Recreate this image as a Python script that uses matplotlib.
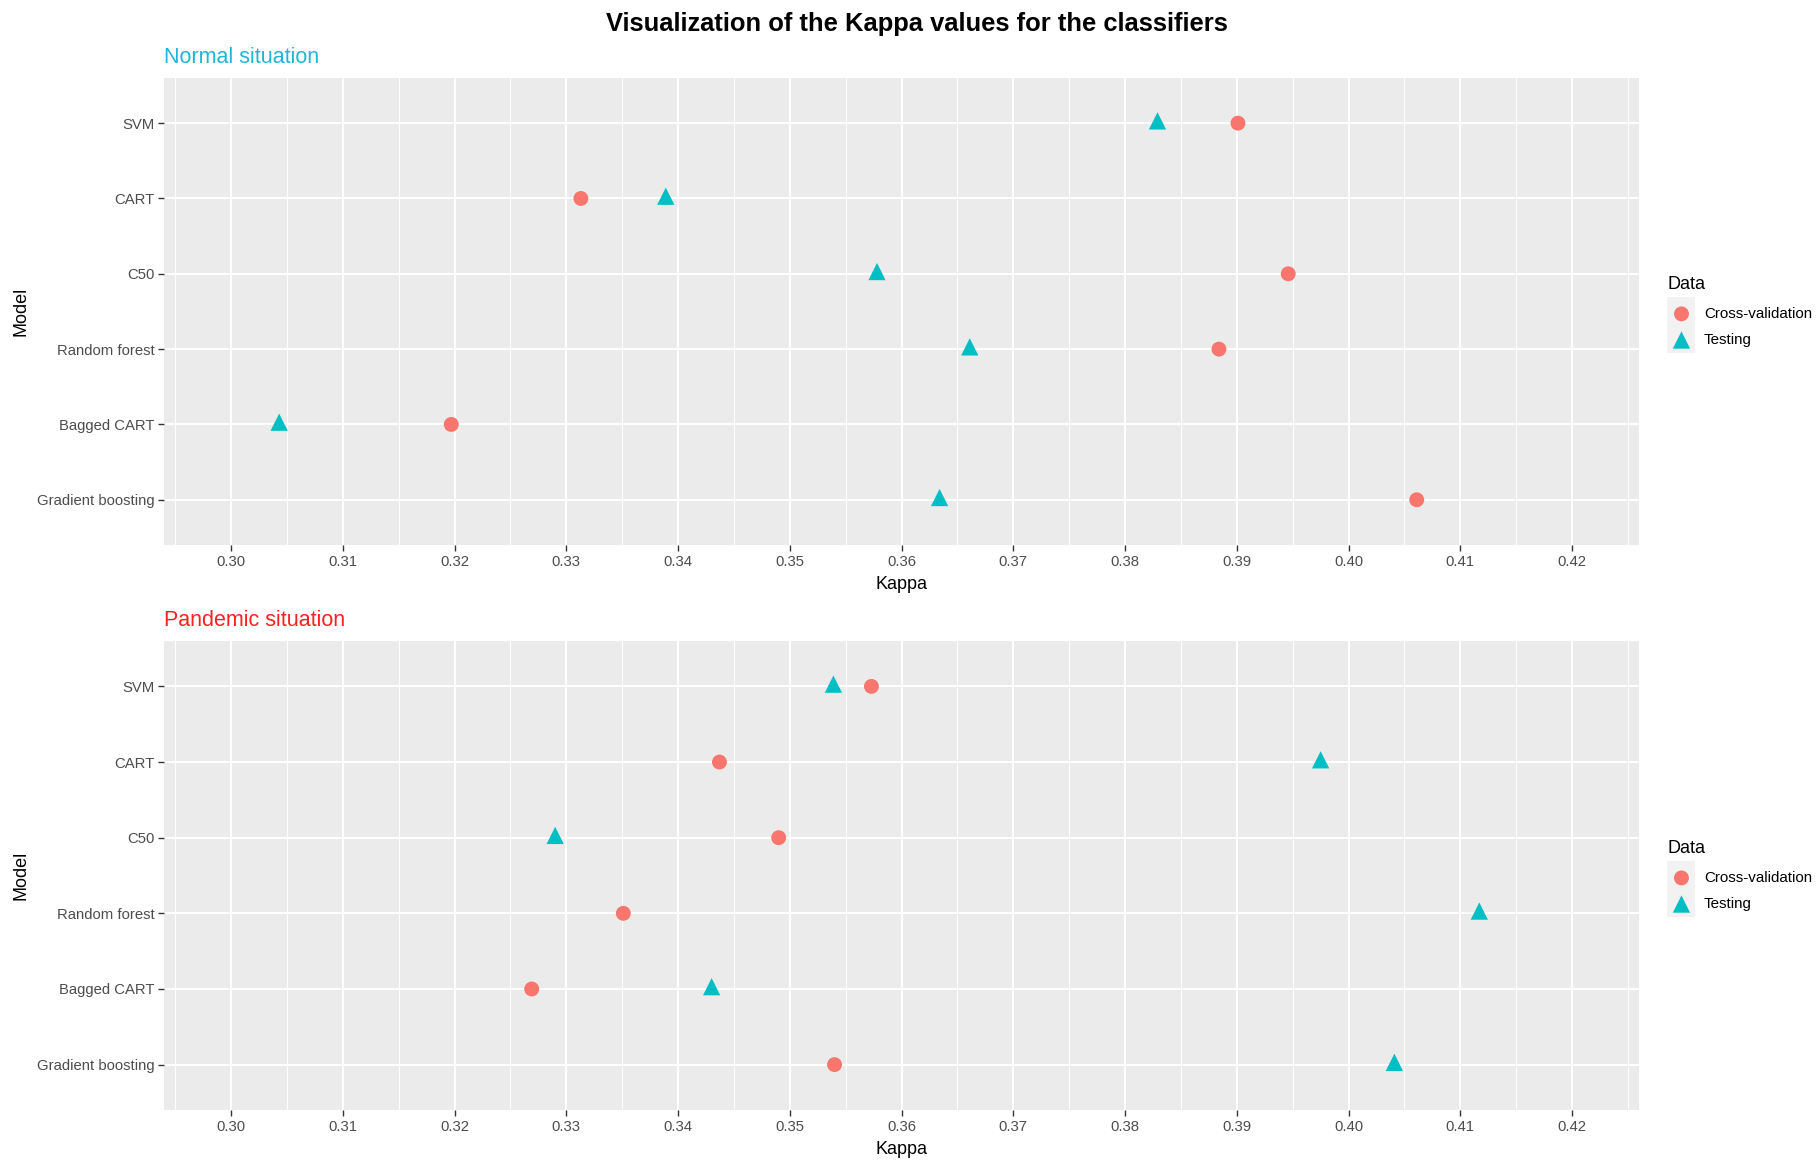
import matplotlib
matplotlib.use("Agg")
import matplotlib.pyplot as plt
from matplotlib.patches import Rectangle
import numpy as np

plt.rcParams['font.family'] = ['Liberation Sans', 'DejaVu Sans']

models = ["Gradient boosting", "Bagged CART", "Random forest", "C50", "CART", "SVM"]

# Kappa per model (same order as models)
normal_cv = [0.4061, 0.3197, 0.3884, 0.3946, 0.3313, 0.3901]
normal_test = [0.3634, 0.3043, 0.3661, 0.3578, 0.3389, 0.3829]
pandemic_cv = [0.3540, 0.3269, 0.3351, 0.3490, 0.3437, 0.3573]
pandemic_test = [0.4041, 0.3430, 0.4117, 0.3290, 0.3975, 0.3539]

xticks = [0.30, 0.31, 0.32, 0.33, 0.34, 0.35, 0.36, 0.37, 0.38, 0.39, 0.40, 0.41, 0.42]

CV_COL = "#F8766D"
TEST_COL = "#00BFC4"
PANEL_BG = "#EBEBEB"

fig = plt.figure(figsize=(18.19, 11.6), dpi=100)


def draw_panel(ax, cv, test, subtitle, sub_color):
    ypos = np.arange(len(models))
    ax.set_facecolor(PANEL_BG)
    for s in ax.spines.values():
        s.set_visible(False)
    ax.set_xlim(0.294, 0.426)
    ax.set_ylim(-0.6, len(models) - 0.4)
    ax.set_xticks(xticks)
    ax.set_xticklabels(["%.2f" % t for t in xticks])
    ax.set_xticks(np.arange(0.295, 0.4251, 0.01), minor=True)
    ax.set_yticks(ypos)
    ax.set_yticklabels(models)
    ax.grid(True, which='major', color='white', linewidth=1.4)
    ax.grid(True, which='minor', axis='x', color='white', linewidth=0.7)
    ax.set_axisbelow(True)
    ax.tick_params(which='major', length=4, width=1, color='#333333',
                   labelsize=10.7, labelcolor='#4D4D4D', pad=3)
    ax.tick_params(which='minor', length=0)
    ax.scatter(cv, ypos, marker='o', s=115, color=CV_COL, edgecolors='none',
               label="Cross-validation", zorder=3)
    ax.scatter(test, ypos + 0.03, marker='^', s=155, color=TEST_COL, edgecolors='none',
               label="Testing", zorder=3)
    ax.set_xlabel("Kappa", fontsize=13, labelpad=5)
    ax.set_ylabel("Model", fontsize=13, labelpad=5)
    ax.set_title(subtitle, loc='left', color=sub_color, fontsize=15.5, pad=11)
    leg = ax.legend(title="Data", loc='center left', bbox_to_anchor=(1.0141, 0.5),
                    frameon=False, fontsize=10.9, title_fontsize=13,
                    handletextpad=0.55, labelspacing=0.8, borderpad=0,
                    handlelength=1.85)
    leg._legend_box.align = "left"
    leg._legend_box.sep = 10
    return leg


ax1 = fig.add_axes([0.0902, 0.5302, 0.8109, 0.4026])
ax2 = fig.add_axes([0.0902, 0.0431, 0.8109, 0.4043])
draw_panel(ax1, normal_cv, normal_test, "Normal situation", "#22B4D8")
draw_panel(ax2, pandemic_cv, pandemic_test, "Pandemic situation", "#FF2020")

# grey key backgrounds behind the legend markers
for ytop in (297, 861):
    fig.patches.append(Rectangle((1667 / 1819, 1 - (ytop + 56) / 1160), 28 / 1819, 56 / 1160,
                                 transform=fig.transFigure, facecolor="#F2F2F2",
                                 edgecolor='none', zorder=-1))

fig.text(0.504, 0.979, "Visualization of the Kappa values for the classifiers",
         ha='center', va='center', fontsize=18.4, fontweight='bold')

fig.savefig("out.png", dpi=100)
